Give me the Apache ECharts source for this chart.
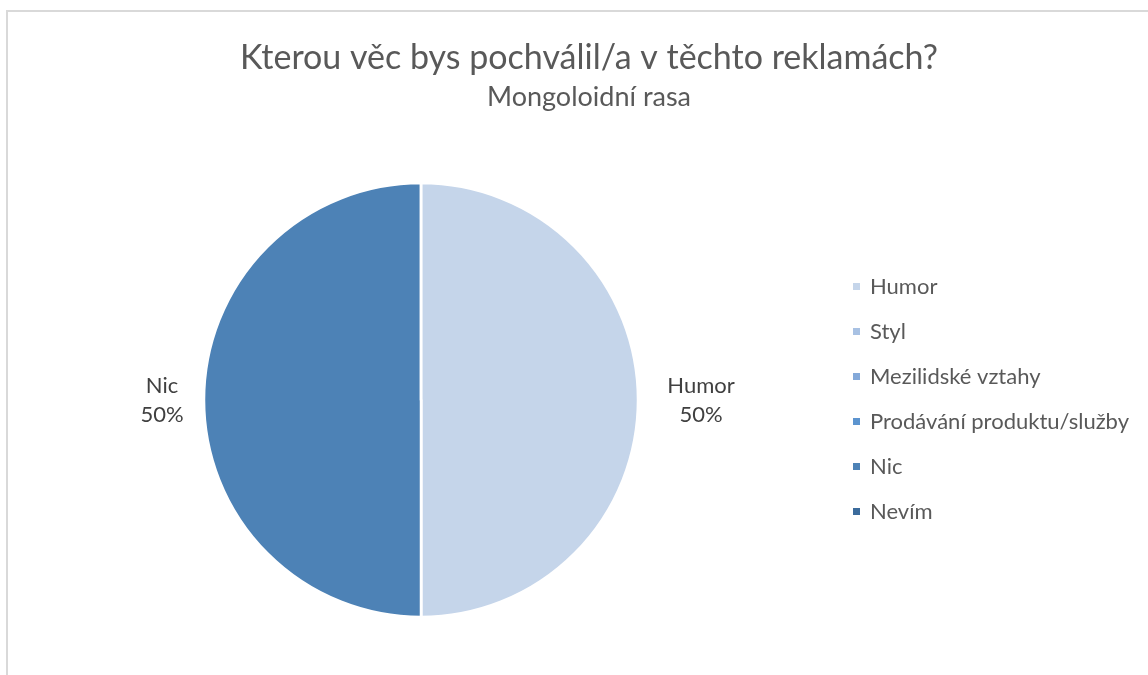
<!DOCTYPE html>
<html>
<head>
<meta charset="utf-8">
<script src="https://cdn.jsdelivr.net/npm/echarts@6/dist/echarts.min.js"></script>
<style>
  html, body { margin: 0; padding: 0; background: #fff; }
  #chart { width: 1148px; height: 675px; }
</style>
</head>
<body>
<div id="chart"></div>
<script>
const titleText = "Kterou věc bys pochválil/a v těchto reklamách?";
const subtitleText = "Mongoloidní rasa";
const categories = ["Humor", "Styl", "Mezilidské vztahy", "Prodávání produktu/služby", "Nic", "Nevím"];
const shares = [50, 0, 0, 0, 50, 0];
const palette = ["#c5d5ea", "#a8c1e3", "#84a9d9", "#5c94cf", "#4d82b6", "#3b6b9c"];

(function () {
  const chart = echarts.init(document.getElementById("chart"));
  const font = "Lato, 'Liberation Sans', sans-serif";

  // label box width and distance from the pie edge, per side
  const labelBox = { Humor: { w: 70, len: 12, len2: 11 }, Nic: { w: 46, len: 7, len2: 7 } };

  const data = categories.map((name, i) => {
    const box = labelBox[name] || { w: 60, len: 10, len2: 10 };
    return {
      name,
      value: shares[i],
      itemStyle: { color: palette[i] },
      label: {
        show: shares[i] > 0,
        rich: { t: { width: box.w, align: "center", fontFamily: font, fontSize: 22, lineHeight: 29, color: "#404040" } }
      },
      labelLine: { length: box.len, length2: box.len2 }
    };
  });

  chart.setOption({
    animation: false,
    graphic: [{
      type: "rect",
      shape: { x: 7, y: 11, width: 1200, height: 700 },
      style: { fill: "none", stroke: "#d9d9d9", lineWidth: 2 },
      silent: true
    }],
    title: {
      text: titleText,
      subtext: subtitleText,
      left: 584,
      textAlign: "center",
      top: 36,
      itemGap: 9,
      textStyle: { fontFamily: font, fontSize: 34, fontWeight: "normal", color: "#595959" },
      subtextStyle: { fontFamily: font, fontSize: 27, color: "#595959" }
    },
    legend: {
      orient: "vertical",
      left: 846,
      top: 267,
      icon: "rect",
      itemWidth: 9,
      itemHeight: 9,
      itemGap: 16,
      data: categories,
      textStyle: { fontFamily: font, fontSize: 22, lineHeight: 29, color: "#595959", padding: [0, 0, 0, 4] }
    },
    series: [{
      type: "pie",
      center: [421, 400],
      radius: 217,
      startAngle: 90,
      clockwise: true,
      stillShowZeroSum: true,
      itemStyle: { borderColor: "#fff", borderWidth: 2.5 },
      label: {
        position: "outside",
        formatter: "{t|{b}}\n{t|{d}%}"
      },
      labelLine: { show: false },
      data
    }]
  });
})();
</script>
</body>
</html>
